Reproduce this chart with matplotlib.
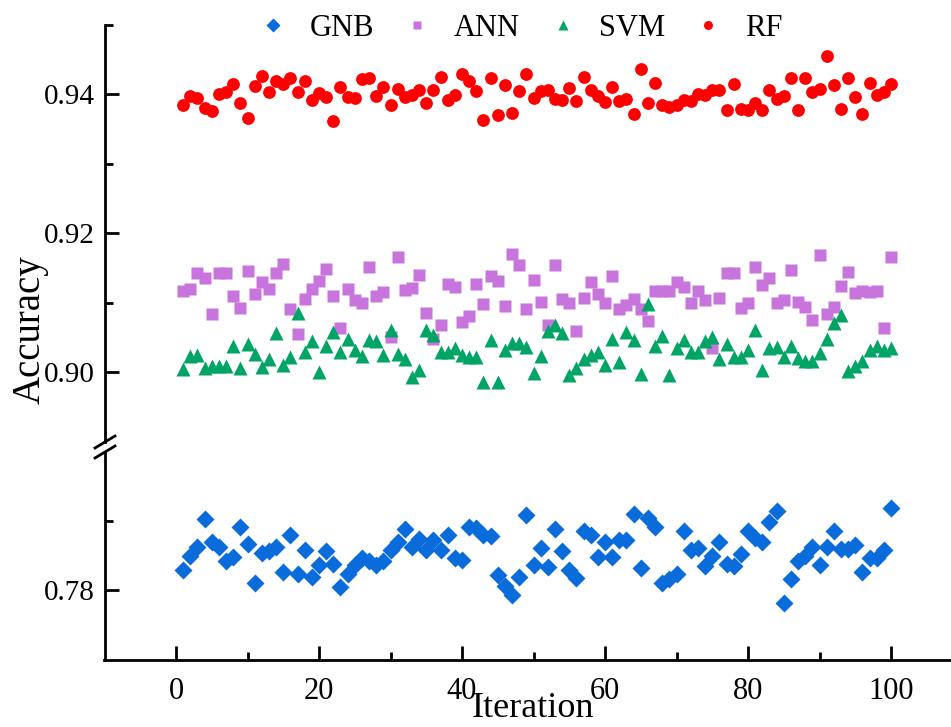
import matplotlib.pyplot as plt
from matplotlib.lines import Line2D
import numpy as np

plt.rcParams['font.family'] = ['Liberation Serif', 'DejaVu Serif']

iteration = np.arange(1, 101)

gnb = [0.7830, 0.7849, 0.7862, 0.7903, 0.7869, 0.7862, 0.7843, 0.7848, 0.7891, 0.7867,
       0.7811, 0.7854, 0.7856, 0.7862, 0.7827, 0.7879, 0.7823, 0.7858, 0.7819, 0.7837,
       0.7856, 0.7838, 0.7805, 0.7824, 0.7836, 0.7846, 0.7842, 0.7836, 0.7843, 0.7858,
       0.7870, 0.7888, 0.7862, 0.7874, 0.7858, 0.7872, 0.7858, 0.7880, 0.7846, 0.7844,
       0.7891, 0.7890, 0.7879, 0.7878, 0.7822, 0.7807, 0.7793, 0.7819, 0.7909, 0.7837,
       0.7861, 0.7834, 0.7889, 0.7856, 0.7829, 0.7818, 0.7885, 0.7880, 0.7848, 0.7870,
       0.7848, 0.7872, 0.7872, 0.7910, 0.7832, 0.7904, 0.7891, 0.7810, 0.7816, 0.7823,
       0.7885, 0.7858, 0.7861, 0.7835, 0.7850, 0.7870, 0.7838, 0.7835, 0.7853, 0.7885,
       0.7875, 0.7870, 0.7898, 0.7914, 0.7782, 0.7817, 0.7842, 0.7850, 0.7862, 0.7837,
       0.7862, 0.7885, 0.7859, 0.7860, 0.7866, 0.7826, 0.7847, 0.7846, 0.7858, 0.7918]

ann = [0.9116, 0.9119, 0.9142, 0.9135, 0.9083, 0.9143, 0.9143, 0.9109, 0.9092, 0.9146,
       0.9113, 0.9130, 0.9119, 0.9143, 0.9155, 0.9091, 0.9055, 0.9105, 0.9119, 0.9131,
       0.9149, 0.9109, 0.9064, 0.9119, 0.9103, 0.9100, 0.9151, 0.9109, 0.9115, 0.9051,
       0.9166, 0.9118, 0.9121, 0.9139, 0.9085, 0.9048, 0.9067, 0.9126, 0.9122, 0.9072,
       0.9080, 0.9126, 0.9098, 0.9138, 0.9131, 0.9095, 0.9170, 0.9154, 0.9090, 0.9132,
       0.9101, 0.9068, 0.9154, 0.9105, 0.9100, 0.9059, 0.9107, 0.9129, 0.9112, 0.9099,
       0.9138, 0.9090, 0.9096, 0.9105, 0.9090, 0.9074, 0.9117, 0.9117, 0.9116, 0.9129,
       0.9123, 0.9100, 0.9116, 0.9104, 0.9034, 0.9107, 0.9142, 0.9143, 0.9092, 0.9100,
       0.9151, 0.9125, 0.9136, 0.9100, 0.9103, 0.9147, 0.9101, 0.9094, 0.9075, 0.9168,
       0.9083, 0.9094, 0.9124, 0.9144, 0.9114, 0.9116, 0.9115, 0.9116, 0.9063, 0.9165]

svm = [0.9004, 0.9023, 0.9024, 0.9005, 0.9009, 0.9009, 0.9009, 0.9037, 0.9005, 0.9040,
       0.9026, 0.9007, 0.9018, 0.9056, 0.9010, 0.9021, 0.9085, 0.9029, 0.9044, 0.9000,
       0.9037, 0.9057, 0.9028, 0.9047, 0.9032, 0.9023, 0.9046, 0.9045, 0.9024, 0.9060,
       0.9026, 0.9019, 0.8993, 0.9003, 0.9060, 0.9053, 0.9029, 0.9029, 0.9035, 0.9024,
       0.9022, 0.9021, 0.8985, 0.9046, 0.8986, 0.9032, 0.9042, 0.9042, 0.9036, 0.8998,
       0.9023, 0.9059, 0.9068, 0.9056, 0.8996, 0.9005, 0.9018, 0.9024, 0.9028, 0.9010,
       0.9048, 0.9015, 0.9058, 0.9046, 0.8997, 0.9098, 0.9037, 0.9052, 0.8996, 0.9034,
       0.9046, 0.9028, 0.9028, 0.9045, 0.9051, 0.9018, 0.9040, 0.9022, 0.9022, 0.9031,
       0.9061, 0.9003, 0.9034, 0.9036, 0.9022, 0.9037, 0.9020, 0.9016, 0.9016, 0.9027,
       0.9047, 0.9070, 0.9082, 0.9001, 0.9008, 0.9016, 0.9032, 0.9037, 0.9032, 0.9034]

rf = [0.9385, 0.9397, 0.9395, 0.9380, 0.9376, 0.9401, 0.9403, 0.9415, 0.9387, 0.9366,
      0.9412, 0.9426, 0.9403, 0.9419, 0.9415, 0.9424, 0.9403, 0.9419, 0.9392, 0.9402,
      0.9396, 0.9361, 0.9410, 0.9396, 0.9395, 0.9422, 0.9423, 0.9397, 0.9410, 0.9384,
      0.9408, 0.9396, 0.9399, 0.9406, 0.9388, 0.9407, 0.9425, 0.9392, 0.9399, 0.9430,
      0.9419, 0.9405, 0.9363, 0.9423, 0.9371, 0.9414, 0.9373, 0.9405, 0.9429, 0.9395,
      0.9405, 0.9407, 0.9394, 0.9392, 0.9409, 0.9391, 0.9425, 0.9406, 0.9397, 0.9389,
      0.9411, 0.9390, 0.9394, 0.9372, 0.9436, 0.9388, 0.9417, 0.9384, 0.9382, 0.9384,
      0.9392, 0.9390, 0.9401, 0.9399, 0.9406, 0.9407, 0.9378, 0.9415, 0.9379, 0.9377,
      0.9388, 0.9377, 0.9407, 0.9394, 0.9397, 0.9424, 0.9378, 0.9424, 0.9403, 0.9408,
      0.9456, 0.9413, 0.9379, 0.9423, 0.9396, 0.9372, 0.9417, 0.9399, 0.9403, 0.9415]

series = [("GNB", gnb, "D", 9.5, "#0A6BDB"),
          ("ANN", ann, "s", 9.0, "#C874DD"),
          ("SVM", svm, "^", 10.5, "#00A465"),
          ("RF", rf, "o", 9.2, "#FF0000")]

W, H = 951, 727
fig = plt.figure(figsize=(W / 100, H / 100), dpi=100)


def box(x0, y0, x1, y1):
    return [x0 / W, 1 - y1 / H, (x1 - x0) / W, (y1 - y0) / H]


ax_top = fig.add_axes(box(104.5, 25, 962.5, 442))
ax_bot = fig.add_axes(box(104.5, 452, 962.5, 660))

for ax in (ax_top, ax_bot):
    for name, vals, mk, ms, col in series:
        ax.plot(iteration, vals, ls="none", marker=mk, ms=ms, color=col,
                mec="none", label=name)
    ax.set_xlim(-10, 110)
    ax.spines["right"].set_visible(False)
    ax.spines["top"].set_visible(False)
    for s in ax.spines.values():
        s.set_linewidth(2)
    ax.tick_params(which="major", direction="in", length=10, width=2, labelsize=21, pad=7)
    ax.tick_params(which="minor", direction="in", length=6, width=2)

ax_top.set_ylim(0.8899, 0.95)
ax_top.set_yticks([0.90, 0.92, 0.94])
ax_top.set_yticks([0.91, 0.93, 0.95], minor=True)
ax_top.yaxis.set_major_formatter(plt.FormatStrFormatter("%.2f"))
ax_top.spines["bottom"].set_visible(False)
ax_top.tick_params(axis="x", which="both", bottom=False, labelbottom=False)

ax_bot.set_ylim(0.77, 0.7999)
ax_bot.set_yticks([0.78])
ax_bot.set_yticks([0.79], minor=True)
ax_bot.yaxis.set_major_formatter(plt.FormatStrFormatter("%.2f"))
ax_bot.set_xticks([0, 20, 40, 60, 80, 100])
ax_bot.set_xticks([10, 30, 50, 70, 90], minor=True)
ax_bot.tick_params(axis="x", labelsize=22, pad=12)

# break marks on the y axis
for yc in (442, 452):
    fig.add_artist(Line2D([95 / W, 115 / W], [1 - (yc + 6) / H, 1 - (yc - 6) / H],
                          transform=fig.transFigure, color="k", lw=2))

fig.text(0.032, 1 - 330 / H, "Accuracy", rotation=90, ha="center", va="center", fontsize=28)
fig.text(533 / W, 2 / H, "Iteration", ha="center", va="bottom", fontsize=26)

handles, labels = ax_top.get_legend_handles_labels()
fig.legend(handles, labels, loc="center", bbox_to_anchor=(520 / W, 1 - 28 / H), ncol=4,
           frameon=False, fontsize=22, handlelength=1, handletextpad=0.7,
           columnspacing=0.9, markerscale=0.7)

fig.savefig("out.png", dpi=100)
